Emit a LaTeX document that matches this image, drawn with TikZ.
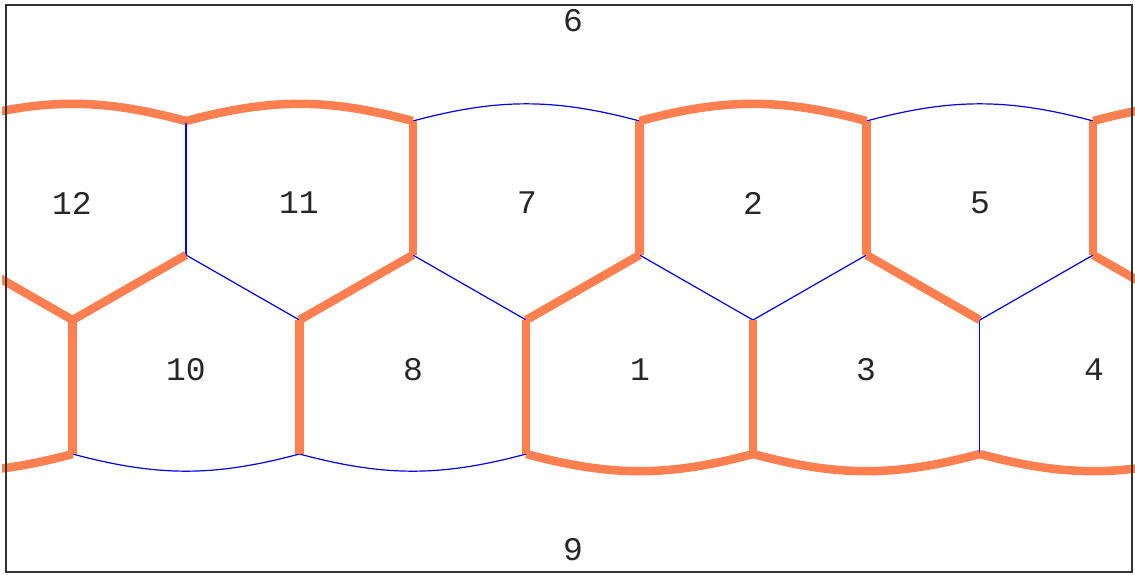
\documentclass[tikz,border=0pt]{standalone}
\usepackage{fontspec}
\newfontfamily\labfont{Liberation Mono}
\definecolor{edgeorange}{HTML}{FF7F50}
\definecolor{edgeblue}{HTML}{0000FF}
\definecolor{framegray}{HTML}{333333}
\begin{document}
\begin{tikzpicture}[x=1pt,y=-1pt,
  thin edge/.style={draw=edgeblue,line width=1.2pt},
  thick edge/.style={draw=edgeorange,line width=8.5pt,line cap=butt},
  celllabel/.style={font=\labfont\fontsize{33}{40}\selectfont,text=black!85,inner sep=0pt}]
\useasboundingbox (0,0) rectangle (1135,574);
% vertices
\foreach \k in {-1,...,5}{
  \coordinate (T\k) at ({186+226.8*\k},121);
  \coordinate (U\k) at ({186+226.8*\k},255);
  \coordinate (L\k) at ({72.6+226.8*\k},320);
  \coordinate (B\k) at ({72.6+226.8*\k},454);
}
\begin{scope}
\clip (2,0) rectangle (1135,574);
% thin blue edges
\draw[thin edge] (T1) to[bend left=15] (T2);
\draw[thin edge] (T3) to[bend left=15] (T4);
\draw[thin edge] (T0) -- (U0);
\draw[thin edge] (U0) -- (L1);
\draw[thin edge] (U1) -- (L2);
\draw[thin edge] (U2) -- (L3);
\draw[thin edge] (U3) -- (L3);
\draw[thin edge] (U4) -- (L4);
\draw[thin edge] (L4) -- (B4);
\draw[thin edge] (B0) to[bend right=15] (B1);
\draw[thin edge] (B1) to[bend right=15] (B2);
% thick orange edges
\draw[thick edge] (T-1) to[bend left=15] (T0);
\draw[thick edge] (T0) to[bend left=15] (T1);
\draw[thick edge] (T2) to[bend left=15] (T3);
\draw[thick edge] (T4) to[bend left=15] (T5);
\draw[thick edge] (T1) -- (U1);
\draw[thick edge] (T2) -- (U2);
\draw[thick edge] (T3) -- (U3);
\draw[thick edge] (T4) -- (U4);
\draw[thick edge] (U-1) -- (L0);
\draw[thick edge] (U0) -- (L0);
\draw[thick edge] (U1) -- (L1);
\draw[thick edge] (U2) -- (L2);
\draw[thick edge] (U3) -- (L4);
\draw[thick edge] (U4) -- (L5);
\draw[thick edge] (L0) -- (B0);
\draw[thick edge] (L1) -- (B1);
\draw[thick edge] (L2) -- (B2);
\draw[thick edge] (L3) -- (B3);
\draw[thick edge] (B-1) to[bend right=15] (B0);
\draw[thick edge] (B2) to[bend right=15] (B3);
\draw[thick edge] (B3) to[bend right=15] (B4);
\draw[thick edge] (B4) to[bend right=15] (B5);
\end{scope}
% frame
\draw[draw=framegray,line width=1.3pt] (6,5) rectangle (1132,572);
% labels
\node[celllabel] (c12) at (72,203) {12};
\node[celllabel] (c11) at (299,203) {11};
\node[celllabel] (c7) at (527,203) {7};
\node[celllabel] (c2) at (753,203) {2};
\node[celllabel] (c5) at (980,203) {5};
\node[celllabel] (c10) at (186,370) {10};
\node[celllabel] (c8) at (413,370) {8};
\node[celllabel] (c1) at (640,370) {1};
\node[celllabel] (c3) at (866,370) {3};
\node[celllabel] (c4) at (1094,370) {4};
\node[celllabel] (c6) at (573,21) {6};
\node[celllabel] (c9) at (573,550) {9};
\end{tikzpicture}
\end{document}
